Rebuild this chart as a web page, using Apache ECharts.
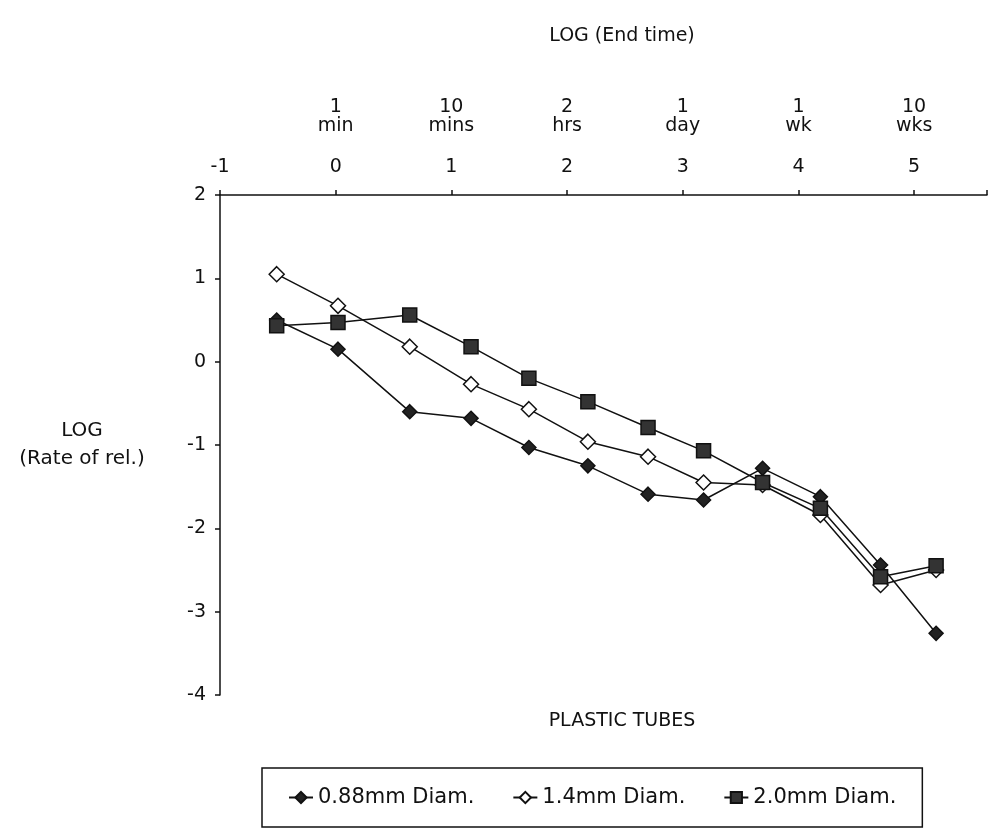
<!DOCTYPE html>
<html>
<head>
<meta charset="utf-8">
<script src="https://cdn.jsdelivr.net/npm/echarts@6/dist/echarts.min.js"></script>
<style>
  html, body { margin: 0; padding: 0; background: #fff; }
  #chart { width: 990px; height: 830px; }
</style>
</head>
<body>
<div id="chart"></div>
<script>
// log10 of end time (minutes)
const logTime = [-0.51, 0.02, 0.64, 1.17, 1.67, 2.18, 2.70, 3.18, 3.69, 4.19, 4.71, 5.19]
// log10 of rate of release, per tube diameter
const diam088 = [0.50, 0.15, -0.60, -0.68, -1.03, -1.25, -1.59, -1.66, -1.28, -1.62, -2.44, -3.26]
const diam14 = [1.05, 0.67, 0.18, -0.27, -0.57, -0.96, -1.14, -1.45, -1.48, -1.84, -2.68, -2.50]
const diam20 = [0.43, 0.47, 0.56, 0.18, -0.20, -0.48, -0.79, -1.07, -1.45, -1.76, -2.58, -2.45]
const seriesNames = ['0.88mm Diam.', '1.4mm Diam.', '2.0mm Diam.']
// readable time labels above the log ticks
const timeTicks = [0, 1, 2, 3, 4, 5]
const timeNames = ['1\nmin', '10\nmins', '2\nhrs', '1\nday', '1\nwk', '10\nwks']

const FONT = 'DejaVu Sans'
const toPairs = (ys) => logTime.map((x, i) => [x, ys[i]])

let myChart = echarts.init(document.getElementById('chart'))

const lineSeries = (name, ys, symbol, fill, size) => ({
  name,
  type: 'line',
  data: toPairs(ys),
  symbol,
  symbolSize: size,
  showAllSymbol: true,
  lineStyle: { color: '#111', width: 1.5 },
  itemStyle: { color: fill, borderColor: '#111', borderWidth: 1.5 },
  emphasis: { disabled: true }
})

const options = {
  animation: false,
  backgroundColor: '#fff',
  textStyle: { fontFamily: FONT, color: '#111' },
  title: [
    {
      text: 'LOG (End time)',
      left: 617,
      top: 22,
      textAlign: 'center',
      textStyle: { fontFamily: FONT, fontSize: 19, fontWeight: 'normal', color: '#111' }
    },
    {
      text: 'PLASTIC TUBES',
      left: 617,
      top: 707,
      textAlign: 'center',
      textStyle: { fontFamily: FONT, fontSize: 19, fontWeight: 'normal', color: '#111' }
    }
  ],
  legend: {
    data: seriesNames,
    left: 262,
    top: 768,
    padding: [19, 26, 19, 26],
    itemGap: 38,
    itemWidth: 24,
    itemHeight: 14,
    borderColor: '#111',
    borderWidth: 1.5,
    textStyle: { fontFamily: FONT, fontSize: 21, color: '#111' }
  },
  grid: {
    left: 220,
    top: 195,
    width: 770,
    height: 500,
    containLabel: false
  },
  xAxis: [
    {
      type: 'value',
      position: 'top',
      min: -1,
      max: 5.63,
      interval: 1,
      axisLine: { show: true, onZero: false, lineStyle: { color: '#111', width: 1.5 } },
      axisTick: { show: true, length: 5, lineStyle: { color: '#111', width: 1.5 } },
      splitLine: { show: false },
      axisLabel: {
        margin: 18,
        fontFamily: FONT,
        fontSize: 19,
        color: '#111',
        formatter: (v) => (Number.isInteger(v) ? String(v) : '')
      }
    },
    {
      type: 'value',
      position: 'top',
      min: -1,
      max: 5.63,
      interval: 1,
      axisLine: { show: false },
      axisTick: { show: false },
      splitLine: { show: false },
      axisLabel: {
        margin: 59,
        fontFamily: FONT,
        fontSize: 19,
        lineHeight: 19,
        color: '#111',
        formatter: (v) => {
          const i = timeTicks.indexOf(v)
          return i >= 0 ? timeNames[i] : ''
        }
      }
    }
  ],
  yAxis: {
    type: 'value',
    min: -4,
    max: 2,
    interval: 1,
    name: 'LOG\n(Rate of rel.)',
    nameLocation: 'middle',
    nameRotate: 0,
    nameGap: 138,
    nameTextStyle: { fontFamily: FONT, fontSize: 20, lineHeight: 28, color: '#111', align: 'center', padding: [0, 0, -12, 0] },
    axisLine: { show: true, onZero: false, lineStyle: { color: '#111', width: 1.5 } },
    axisTick: { show: true, length: 5, lineStyle: { color: '#111', width: 1.5 } },
    splitLine: { show: false },
    axisLabel: { margin: 14, fontFamily: FONT, fontSize: 19, color: '#111' }
  },
  series: [
    lineSeries(seriesNames[0], diam088, 'diamond', '#222', 14),
    lineSeries(seriesNames[1], diam14, 'diamond', '#fff', 15),
    lineSeries(seriesNames[2], diam20, 'rect', '#333', 14)
  ]
}

myChart.setOption(options)
</script>
</body>
</html>
